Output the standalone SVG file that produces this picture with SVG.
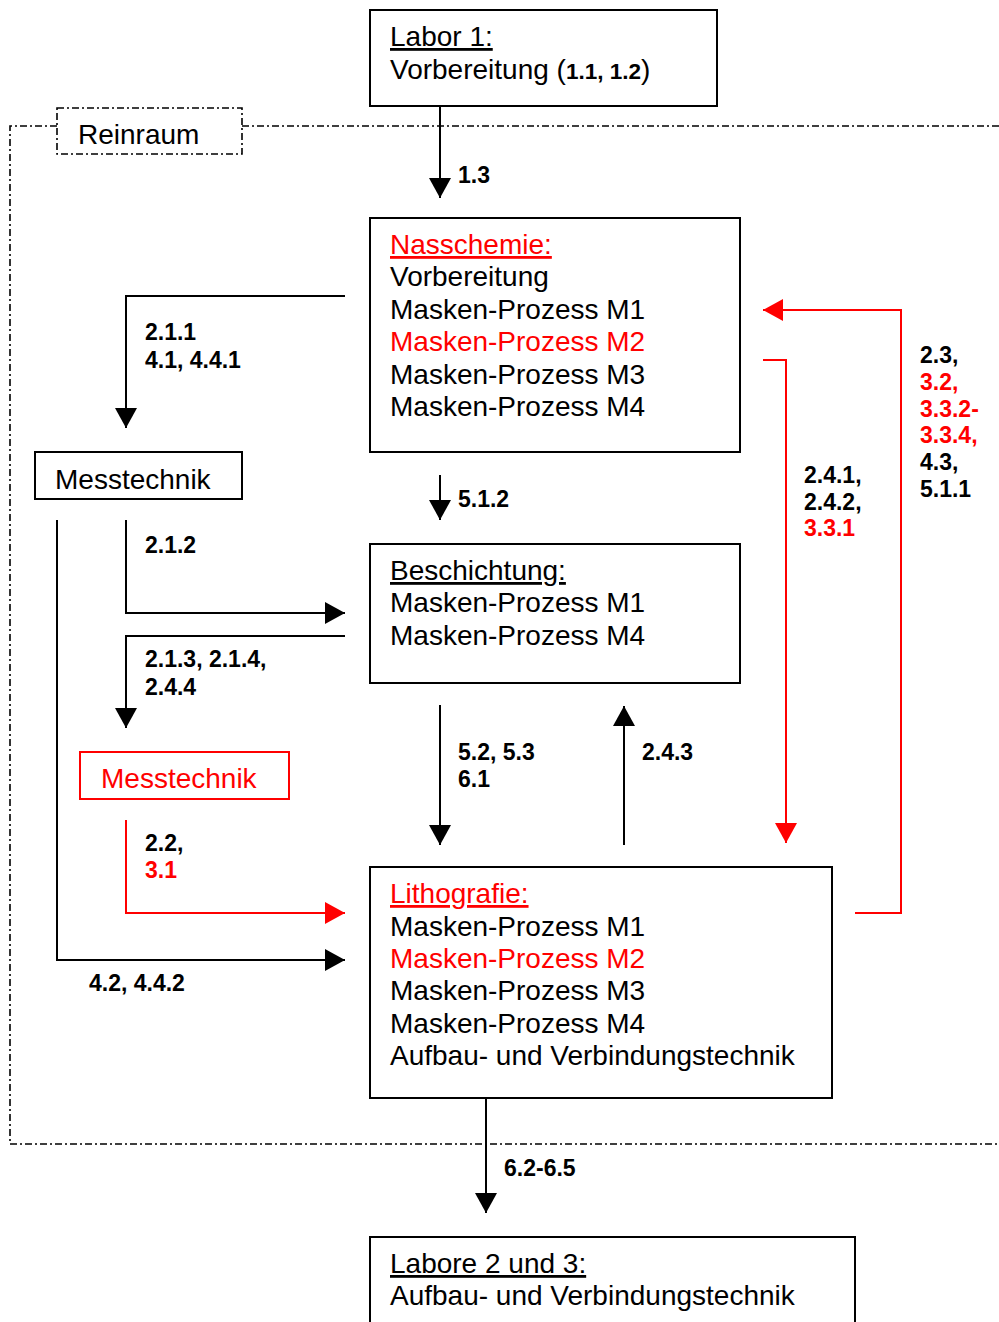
<svg xmlns="http://www.w3.org/2000/svg" width="999" height="1322" viewBox="0 0 999 1322">
<style>
  text { font-family: "Liberation Sans", Arial, sans-serif; }
  .t { font-size: 28px; fill: #000; }
  .lb { font-size: 23px; font-weight: bold; fill: #000; }
  .r, .lb.r, .t.r { fill: #ff0000; }
  .u { text-decoration: underline; }
  .box { fill: #fff; stroke: #000; stroke-width: 2; }
  .rbox { fill: #fff; stroke: #ff0000; stroke-width: 2; }
  .dd { fill: none; stroke: #000; stroke-width: 1.6; stroke-dasharray: 7 3 2 3; }
  .c { fill: none; stroke: #000; stroke-width: 2; }
  .cr { fill: none; stroke: #ff0000; stroke-width: 2; }
</style>
<defs>
  <marker id="ah" markerUnits="userSpaceOnUse" markerWidth="20" markerHeight="22" refX="20" refY="11" orient="auto">
    <path d="M0,0 L20,11 L0,22 z" fill="#000"/>
  </marker>
  <marker id="ahr" markerUnits="userSpaceOnUse" markerWidth="20" markerHeight="22" refX="20" refY="11" orient="auto">
    <path d="M0,0 L20,11 L0,22 z" fill="#ff0000"/>
  </marker>
</defs>
<rect width="999" height="1322" fill="#fff"/>

<g id="reinraum">
  <path class="dd" d="M57,126 L10,126 L10,1144 L1000,1144"/>
  <path class="dd" d="M242,126 L1000,126"/>
  <rect class="dd" x="57" y="108" width="185" height="46" fill="#fff"/>
  <text class="t" x="78" y="144">Reinraum</text>
</g>

<g id="connectors">
  <line class="c" x1="440" y1="107" x2="440" y2="198" marker-end="url(#ah)"/>
  <text class="lb" x="458" y="183">1.3</text>

  <polyline class="c" points="345,296 126,296 126,428" marker-end="url(#ah)"/>
  <text class="lb" x="145" y="340">2.1.1</text>
  <text class="lb" x="145" y="368">4.1, 4.4.1</text>

  <line class="c" x1="440" y1="475" x2="440" y2="520" marker-end="url(#ah)"/>
  <text class="lb" x="458" y="507">5.1.2</text>

  <polyline class="c" points="126,520 126,613 345,613" marker-end="url(#ah)"/>
  <text class="lb" x="145" y="553">2.1.2</text>

  <polyline class="c" points="345,636 126,636 126,728" marker-end="url(#ah)"/>
  <text class="lb" x="145" y="667">2.1.3, 2.1.4,</text>
  <text class="lb" x="145" y="695">2.4.4</text>

  <polyline class="c" points="57,520 57,960 345,960" marker-end="url(#ah)"/>
  <text class="lb" x="89" y="991">4.2, 4.4.2</text>

  <polyline class="cr" points="126,820 126,913 345,913" marker-end="url(#ahr)"/>
  <text class="lb" x="145" y="851">2.2,</text>
  <text class="lb r" x="145" y="878">3.1</text>

  <line class="c" x1="440" y1="705" x2="440" y2="845" marker-end="url(#ah)"/>
  <text class="lb" x="458" y="760">5.2, 5.3</text>
  <text class="lb" x="458" y="787">6.1</text>

  <line class="c" x1="624" y1="845" x2="624" y2="706" marker-end="url(#ah)"/>
  <text class="lb" x="642" y="760">2.4.3</text>

  <polyline class="cr" points="855,913 901,913 901,310 763,310" marker-end="url(#ahr)"/>
  <text class="lb" x="920" y="363">2.3,</text>
  <text class="lb r" x="920" y="390">3.2,</text>
  <text class="lb r" x="920" y="417">3.3.2-</text>
  <text class="lb r" x="920" y="443">3.3.4,</text>
  <text class="lb" x="920" y="470">4.3,</text>
  <text class="lb" x="920" y="497">5.1.1</text>

  <polyline class="cr" points="763,360 786,360 786,843" marker-end="url(#ahr)"/>
  <text class="lb" x="804" y="483">2.4.1,</text>
  <text class="lb" x="804" y="510">2.4.2,</text>
  <text class="lb r" x="804" y="536">3.3.1</text>

  <line class="c" x1="486" y1="1098" x2="486" y2="1213" marker-end="url(#ah)"/>
  <text class="lb" x="504" y="1176">6.2-6.5</text>
</g>

<g id="labor1">
  <rect class="box" x="370" y="10" width="347" height="96"/>
  <text class="t u" x="390" y="46">Labor 1:</text>
  <text class="t" x="390" y="79">Vorbereitung (<tspan font-size="22.5" font-weight="bold">1.1, 1.2</tspan>)</text>
</g>

<g id="nasschemie">
  <rect class="box" x="370" y="218" width="370" height="234"/>
  <text class="t r u" x="390" y="254">Nasschemie:</text>
  <text class="t" x="390" y="286">Vorbereitung</text>
  <text class="t" x="390" y="319">Masken-Prozess M1</text>
  <text class="t r" x="390" y="351">Masken-Prozess M2</text>
  <text class="t" x="390" y="384">Masken-Prozess M3</text>
  <text class="t" x="390" y="416">Masken-Prozess M4</text>
</g>

<g id="messtechnik1">
  <rect class="box" x="35" y="452" width="207" height="47"/>
  <text class="t" x="55" y="489">Messtechnik</text>
</g>

<g id="beschichtung">
  <rect class="box" x="370" y="544" width="370" height="139"/>
  <text class="t u" x="390" y="580">Beschichtung:</text>
  <text class="t" x="390" y="612">Masken-Prozess M1</text>
  <text class="t" x="390" y="645">Masken-Prozess M4</text>
</g>

<g id="messtechnik2">
  <rect class="rbox" x="80" y="752" width="209" height="47"/>
  <text class="t r" x="101" y="788">Messtechnik</text>
</g>

<g id="lithografie">
  <rect class="box" x="370" y="867" width="462" height="231"/>
  <text class="t r u" x="390" y="903">Lithografie:</text>
  <text class="t" x="390" y="936">Masken-Prozess M1</text>
  <text class="t r" x="390" y="968">Masken-Prozess M2</text>
  <text class="t" x="390" y="1000">Masken-Prozess M3</text>
  <text class="t" x="390" y="1033">Masken-Prozess M4</text>
  <text class="t" x="390" y="1065">Aufbau- und Verbindungstechnik</text>
</g>

<g id="labore23">
  <rect class="box" x="370" y="1237" width="485" height="100"/>
  <text class="t u" x="390" y="1273">Labore 2 und 3:</text>
  <text class="t" x="390" y="1305">Aufbau- und Verbindungstechnik</text>
</g>
</svg>
